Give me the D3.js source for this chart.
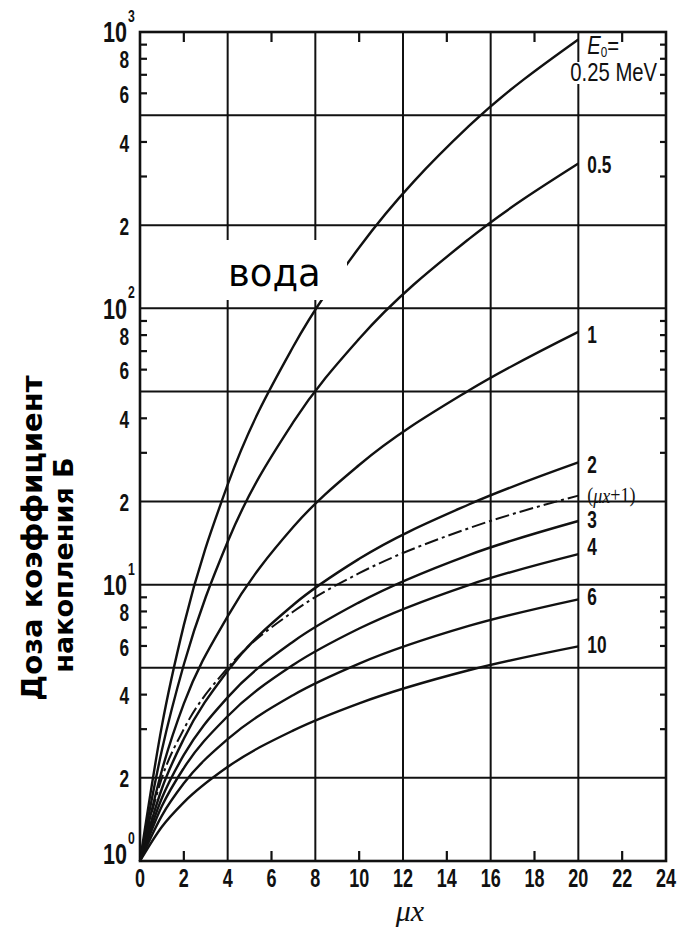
<!DOCTYPE html>
<html>
<head>
<meta charset="utf-8">
<script src="https://cdn.jsdelivr.net/npm/d3@7"></script>
<style>
  html, body { margin: 0; padding: 0; background: #fff; }
  svg { display: block; }
</style>
</head>
<body>
<div id="chart"></div>
<script>
// depth in mean free paths
const MU_X = [0, 1, 2, 4, 7, 10, 15, 20];

// dose buildup factor B for water, one array per source energy
const B_025 = [1, 3.09, 7.14, 23.0, 72.9, 166, 456, 940];
const B_05 = [1, 2.52, 5.14, 14.3, 38.8, 77.6, 178, 334];
const B_1 = [1, 2.13, 3.71, 7.68, 16.2, 27.1, 50.4, 82.2];
const B_2 = [1, 1.83, 2.77, 4.88, 8.46, 12.4, 19.5, 27.7];
const B_3 = [1, 1.69, 2.42, 3.91, 6.23, 8.63, 12.8, 17.0];
const B_4 = [1, 1.58, 2.17, 3.34, 5.13, 6.94, 9.97, 12.9];
const B_6 = [1, 1.46, 1.91, 2.76, 3.99, 5.18, 7.09, 8.85];
const B_10 = [1, 1.33, 1.63, 2.19, 2.97, 3.72, 4.90, 5.98];
const B_LINEAR = [1, 2, 3, 5, 8, 11, 16, 21]; // (μx+1)

const CURVE_LABELS = ['0.25', '0.5', '1', '2', '3', '4', '6', '10'];

const X_TICKS = [0, 2, 4, 6, 8, 10, 12, 14, 16, 18, 20, 22, 24];
const X_GRID = [4, 8, 12, 16, 20];
const X_MINOR = [2, 6, 10, 14, 18, 22];

const Y_LABELS = [800, 600, 400, 200, 80, 60, 40, 20, 8, 6, 4, 2];
const Y_POWERS = [1000, 100, 10, 1];
const Y_GRID = [500, 200, 100, 50, 20, 10, 5, 2];
const Y_MINOR = [3, 4, 6, 7, 8, 9, 30, 40, 60, 70, 80, 90, 300, 400, 600, 700, 800, 900];

const NUM_FONT = '"Liberation Sans", Arial, sans-serif';
const SX = 0.72; // squeeze numbers to look like the condensed typeface
const INK = '#111';

const width = 678;
const height = 930;

const svg = d3
  .select('#chart')
  .append('svg')
  .attr('width', width)
  .attr('height', height)
  .attr('viewBox', [0, 0, width, height]);

const x = d3.scaleLinear().domain([0, 24]).range([140, 666]);
const y = d3.scaleLog().domain([1, 1000]).range([861, 32]);

// group for condensed text; x positions are divided by SX inside it
const numbers = () => svg.append('g')
  .attr('transform', `scale(${SX},1)`)
  .attr('font-family', NUM_FONT)
  .attr('font-weight', 'bold')
  .attr('fill', INK);

// grid
const grid = svg.append('g').attr('stroke', INK).attr('stroke-width', 2);
grid.selectAll('.hgrid')
  .data(Y_GRID)
  .join('line')
  .attr('x1', x(0)).attr('x2', x(24))
  .attr('y1', (d) => y(d)).attr('y2', (d) => y(d));
grid.selectAll('.vgrid')
  .data(X_GRID)
  .join('line')
  .attr('class', 'vgrid')
  .attr('x1', (d) => x(d)).attr('x2', (d) => x(d))
  .attr('y1', y(1)).attr('y2', y(1000));

// minor ticks, all inward
const ticks = svg.append('g').attr('stroke', INK).attr('stroke-width', 2.2);
ticks.selectAll('.yl')
  .data(Y_MINOR)
  .join('line')
  .attr('x1', x(0)).attr('x2', x(0) + 7)
  .attr('y1', (d) => y(d)).attr('y2', (d) => y(d));
ticks.selectAll('.yr')
  .data(Y_MINOR)
  .join('line')
  .attr('class', 'yr')
  .attr('x1', x(24)).attr('x2', x(24) - 6)
  .attr('y1', (d) => y(d)).attr('y2', (d) => y(d));
ticks.selectAll('.xt')
  .data(X_MINOR)
  .join('line')
  .attr('class', 'xt')
  .attr('x1', (d) => x(d)).attr('x2', (d) => x(d))
  .attr('y1', y(1000)).attr('y2', y(1000) + 10);
ticks.selectAll('.xb')
  .data(X_MINOR)
  .join('line')
  .attr('class', 'xb')
  .attr('x1', (d) => x(d)).attr('x2', (d) => x(d))
  .attr('y1', y(1)).attr('y2', y(1) - 10);

// frame
svg.append('rect')
  .attr('x', x(0)).attr('y', y(1000))
  .attr('width', x(24) - x(0)).attr('height', y(1) - y(1000))
  .attr('fill', 'none')
  .attr('stroke', INK)
  .attr('stroke-width', 2.6);

// curves
const series = [B_025, B_05, B_1, B_2, B_3, B_4, B_6, B_10].map((values, i) => ({
  label: CURVE_LABELS[i],
  values,
}));

const line = d3.line()
  .x((d, i) => x(MU_X[i]))
  .y((d) => y(d))
  .curve(d3.curveMonotoneX);

svg.append('g')
  .attr('fill', 'none')
  .attr('stroke', INK)
  .attr('stroke-width', 2.4)
  .selectAll('path')
  .data(series)
  .join('path')
  .attr('d', (d) => line(d.values));

svg.append('path')
  .attr('d', line(B_LINEAR))
  .attr('fill', 'none')
  .attr('stroke', INK)
  .attr('stroke-width', 2)
  .attr('stroke-dasharray', '14,4,3,4');

// curve labels at the right end
const labelDy = { '0.5': 1, '1': 3, '2': 2, '3': -2, '4': -8, '6': -3, '10': -2 };
numbers()
  .selectAll('text')
  .data(series.filter((d) => d.label !== '0.25'))
  .join('text')
  .attr('x', (x(20) + 9) / SX)
  .attr('y', (d) => y(d.values[d.values.length - 1]) + labelDy[d.label])
  .attr('dominant-baseline', 'central')
  .attr('font-size', 24)
  .text((d) => d.label);

svg.append('text')
  .attr('transform', `translate(${x(20) + 9},${y(B_LINEAR[B_LINEAR.length - 1])}) scale(0.9,1)`)
  .attr('dominant-baseline', 'central')
  .attr('font-family', '"Liberation Serif", "DejaVu Serif", serif')
  .attr('font-size', 20)
  .attr('fill', INK)
  .html('(<tspan font-style="italic">μx</tspan>+1)');

// E0 = 0.25 MeV, two separate lines
const ESX = 0.78;
const eBg = svg.append('rect').attr('fill', '#fff');
const eGroup = svg.append('g')
  .attr('transform', `scale(${ESX},1)`)
  .attr('font-family', NUM_FONT)
  .attr('font-size', 26)
  .attr('fill', INK);
const eTop = eGroup.append('text')
  .attr('x', (x(20) + 9) / ESX)
  .attr('y', 54);
eTop.append('tspan')
  .attr('font-style', 'italic')
  .text('E');
eTop.append('tspan')
  .attr('font-size', 15).attr('dy', 3)
  .text('0');
eTop.append('tspan')
  .attr('dy', -3)
  .text('=');
const eBottom = eGroup.append('text')
  .attr('x', (x(20) - 8) / ESX)
  .attr('y', 81)
  .text(CURVE_LABELS[0] + ' MeV');
const eb = eBottom.node().getBBox();
eBg.attr('x', eb.x * ESX - 1).attr('y', 62).attr('width', eb.width * ESX + 2).attr('height', 22);

// y tick labels
numbers()
  .selectAll('text')
  .data(Y_LABELS)
  .join('text')
  .attr('x', 129 / SX)
  .attr('y', (d) => y(d) + 1)
  .attr('text-anchor', 'end')
  .attr('dominant-baseline', 'central')
  .attr('font-size', 24)
  .text((d) => String(d)[0]);

const powers = numbers()
  .selectAll('g')
  .data(Y_POWERS)
  .join('g');
powers.append('text')
  .attr('x', 127 / SX)
  .attr('y', (d) => y(d) + (d === 1 ? -7 : 0))
  .attr('text-anchor', 'end')
  .attr('dominant-baseline', 'central')
  .attr('font-size', 30)
  .text('10');
powers.append('text')
  .attr('x', 128 / SX)
  .attr('y', (d) => y(d) + (d === 1 ? -17 : -10))
  .attr('font-size', 17)
  .text((d) => Math.round(Math.log10(d)));

// x tick labels
numbers()
  .selectAll('text')
  .data(X_TICKS)
  .join('text')
  .attr('x', (d) => x(d) / SX)
  .attr('y', 887)
  .attr('text-anchor', 'middle')
  .attr('font-size', 25)
  .text((d) => d);

// axis titles
svg.append('text')
  .attr('x', 410)
  .attr('y', 921)
  .attr('text-anchor', 'middle')
  .attr('font-family', '"Liberation Serif", "DejaVu Serif", serif')
  .attr('font-style', 'italic')
  .attr('font-size', 30)
  .attr('fill', INK)
  .text('μx');

svg.append('text')
  .attr('transform', 'translate(42,538) rotate(-90)')
  .attr('text-anchor', 'middle')
  .attr('font-family', '"DejaVu Sans", sans-serif')
  .attr('font-weight', 'bold')
  .attr('font-size', 29)
  .attr('fill', '#000')
  .text('Доза коэффициент');

svg.append('text')
  .attr('transform', 'translate(73,565) rotate(-90)')
  .attr('text-anchor', 'middle')
  .attr('font-family', '"DejaVu Sans", sans-serif')
  .attr('font-weight', 'bold')
  .attr('font-size', 27)
  .attr('fill', '#000')
  .text('накопления Б');

// medium label box
svg.append('rect')
  .attr('x', 205).attr('y', 240)
  .attr('width', 142).attr('height', 60)
  .attr('fill', '#fff');
svg.append('text')
  .attr('x', 228)
  .attr('y', 286)
  .attr('font-family', '"DejaVu Sans", sans-serif')
  .attr('font-size', 37)
  .attr('fill', '#000')
  .text('вода');
</script>
</body>
</html>
